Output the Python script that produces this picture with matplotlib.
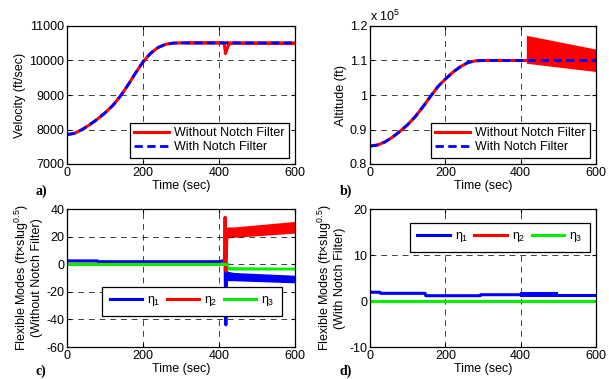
import matplotlib
matplotlib.use("Agg")
import matplotlib.pyplot as plt
from matplotlib.ticker import FuncFormatter

plt.rcParams['font.family'] = ['Liberation Sans', 'DejaVu Sans']
plt.rcParams['font.size'] = 9
plt.rcParams['mathtext.fontset'] = 'custom'
plt.rcParams['mathtext.rm'] = 'Liberation Sans'
plt.rcParams['mathtext.it'] = 'Liberation Sans'
plt.rcParams['axes.unicode_minus'] = False

# ---- panel a: velocity (ft/sec) ----
t_vel = [0, 20, 40, 60, 80, 100, 120, 140, 160, 180, 200, 220, 240, 260, 280, 300, 320, 600]
vel = [7850, 7890, 8000, 8140, 8300, 8480, 8690, 8960, 9280, 9630, 9960, 10210, 10380, 10470, 10505, 10510, 10510, 10510]
t_vel_red = [320, 410, 414, 417, 421, 426, 435, 600]
vel_red = [10510, 10510, 10470, 10200, 10330, 10470, 10500, 10490]

# ---- panel b: altitude (ft) ----
t_alt = [0, 20, 40, 60, 80, 100, 120, 140, 160, 180, 200, 220, 240, 260, 280, 300, 600]
alt = [85200, 85500, 86400, 87800, 89500, 91400, 93700, 96500, 99500, 102400, 104600, 106600, 108200, 109400, 109900, 110000, 110000]
t_band_b = [415, 600]
alt_band_hi = [117300, 113300]
alt_band_lo = [109200, 106800]

# ---- panel c: flexible modes without notch filter ----
t_c1 = [0, 80, 82, 400, 412, 416, 418, 420]
eta1_c = [2.4, 2.4, 1.8, 1.8, 2.6, 3.0, -44, -6]
t_c2 = [0, 414, 416, 418, 421]
eta2_c = [0, 0, 34, -5, 22]
t_c3 = [0, 420]
eta3_c = [0, 0]
t_band_c = [420, 440, 600]
eta1_hi = [-5.0, -6.0, -8.0]
eta1_lo = [-12.0, -12.0, -13.5]
eta2_hi = [27.0, 27.0, 31.0]
eta2_lo = [19.0, 19.5, 22.5]
eta3_hi = [-1.3, -1.8, -2.2]
eta3_lo = [-4.2, -4.2, -4.2]

# ---- panel d: flexible modes with notch filter ----
t_d1 = [0, 5, 26, 28, 146, 148, 292, 294, 398]
eta1_d = [2.0, 1.9, 1.9, 1.67, 1.67, 1.15, 1.15, 1.37, 1.37]
t_d1b = [500, 600]
eta1_d_after = [1.35, 1.35]
t_band_d = [398, 500]
eta1_d_hi = [1.9, 1.9]
eta1_d_lo = [0.8, 0.8]
t_d = [0, 600]
eta2_d = [0, 0]
eta3_d = [0, 0]

W, H = 609, 379
fig = plt.figure(figsize=(W / 100, H / 100), dpi=100)


def px_axes(l, t, r, b):
    return fig.add_axes([l / W, 1 - b / H, (r - l) / W, (b - t) / H])


def style(ax, ylim, yticks, fmt=None):
    ax.set_xlim(0, 600)
    ax.set_xticks([0, 200, 400, 600])
    ax.set_ylim(*ylim)
    ax.set_yticks(yticks)
    if fmt:
        ax.yaxis.set_major_formatter(FuncFormatter(fmt))
    ax.grid(True, color='black', linestyle=(0, (6, 5)), linewidth=0.7, alpha=0.75)
    ax.tick_params(direction='in', length=3, top=True, right=True, pad=2, labelsize=9)
    for s in ax.spines.values():
        s.set_linewidth(0.9)
    ax.set_xlabel('Time (sec)', labelpad=1)


red = '#ff0000'
blue = '#0000ff'
green = '#00f000'

# a
ax = px_axes(67, 26, 295, 164)
ax.plot(t_vel, vel, color=red, lw=2.2, label='Without Notch Filter')
ax.plot(t_vel_red, vel_red, color=red, lw=2.2)
ax.plot(t_vel, vel, color=blue, lw=2.0, ls=(0, (3, 1.6)), label='With Notch Filter')
style(ax, (7000, 11000), [7000, 8000, 9000, 10000, 11000])
ax.set_ylabel('Velocity (ft/sec)', labelpad=2)
leg = ax.legend(loc='lower right', fancybox=False, edgecolor='black', framealpha=1,
                handlelength=2.8, borderpad=0.35, labelspacing=0.2, handletextpad=0.4,
                borderaxespad=0.5)
leg.get_frame().set_linewidth(0.9)

# b
ax = px_axes(370, 26, 596, 164)
ax.plot(t_alt, [v / 1e5 for v in alt], color=red, lw=2.2, label='Without Notch Filter')
ax.fill_between(t_band_b, [v / 1e5 for v in alt_band_hi], [v / 1e5 for v in alt_band_lo],
                color=red, lw=0)
ax.plot(t_alt, [v / 1e5 for v in alt], color=blue, lw=2.0, ls=(0, (3, 1.6)), label='With Notch Filter')
style(ax, (0.8, 1.2), [0.8, 0.9, 1.0, 1.1, 1.2], lambda v, p: '%g' % round(v, 3))
ax.set_ylabel('Altitude (ft)', labelpad=2)
ax.text(0.0, 1.015, r'x 10$^5$', transform=ax.transAxes, ha='left', va='bottom', fontsize=9)
leg = ax.legend(loc='lower right', fancybox=False, edgecolor='black', framealpha=1,
                handlelength=2.8, borderpad=0.35, labelspacing=0.2, handletextpad=0.4,
                borderaxespad=0.5)
leg.get_frame().set_linewidth(0.9)

# c
ax = px_axes(67, 209, 295, 347)
ax.plot(t_c1, eta1_c, color=blue, lw=2.2, label=r'$\eta_1$')
ax.fill_between(t_band_c, eta1_hi, eta1_lo, color=blue, lw=0)
ax.plot(t_c2, eta2_c, color=red, lw=2.2, label=r'$\eta_2$')
ax.fill_between(t_band_c, eta2_hi, eta2_lo, color=red, lw=0)
ax.plot(t_c3, eta3_c, color=green, lw=2.2, label=r'$\eta_3$')
ax.fill_between(t_band_c, eta3_hi, eta3_lo, color=green, lw=0)
style(ax, (-60, 40), [-60, -40, -20, 0, 20, 40])
ax.set_ylabel('Flexible Modes (ft\u00d7slug$^{0.5}$)\n(Without Notch Filter)', labelpad=2,
              fontsize=9, linespacing=1.0)
leg = ax.legend(loc='upper left', bbox_to_anchor=(0.154, 0.435), ncol=3, fancybox=False,
                edgecolor='black', framealpha=1, handlelength=2.6, borderpad=0.6,
                handletextpad=0.4, columnspacing=0.5, borderaxespad=0)
leg.get_frame().set_linewidth(0.9)

# d
ax = px_axes(370, 209, 596, 347)
ax.plot(t_d1, eta1_d, color=blue, lw=2.2, label=r'$\eta_1$')
ax.fill_between(t_band_d, eta1_d_hi, eta1_d_lo, color=blue, lw=0)
ax.plot(t_d1b, eta1_d_after, color=blue, lw=2.2)
ax.plot(t_d, eta2_d, color=red, lw=2.2, label=r'$\eta_2$')
ax.plot(t_d, eta3_d, color=green, lw=2.2, label=r'$\eta_3$')
style(ax, (-10, 20), [-10, 0, 10, 20])
ax.set_ylabel('Flexible Modes (ft\u00d7slug$^{0.5}$)\n(With Notch Filter)', labelpad=2,
              fontsize=9, linespacing=1.0)
leg = ax.legend(loc='upper right', bbox_to_anchor=(0.973, 0.899), ncol=3, fancybox=False,
                edgecolor='black', framealpha=1, handlelength=2.6, borderpad=0.6,
                handletextpad=0.4, columnspacing=0.5, borderaxespad=0)
leg.get_frame().set_linewidth(0.9)

# panel letters
for x, y, s in [(36, 191, 'a)'), (340, 191, 'b)'), (36, 371, 'c)'), (340, 371, 'd)')]:
    fig.text(x / W, 1 - y / H, s, family='Liberation Serif', weight='bold', fontsize=10,
             ha='left', va='center')

fig.savefig('out.png', dpi=100)
